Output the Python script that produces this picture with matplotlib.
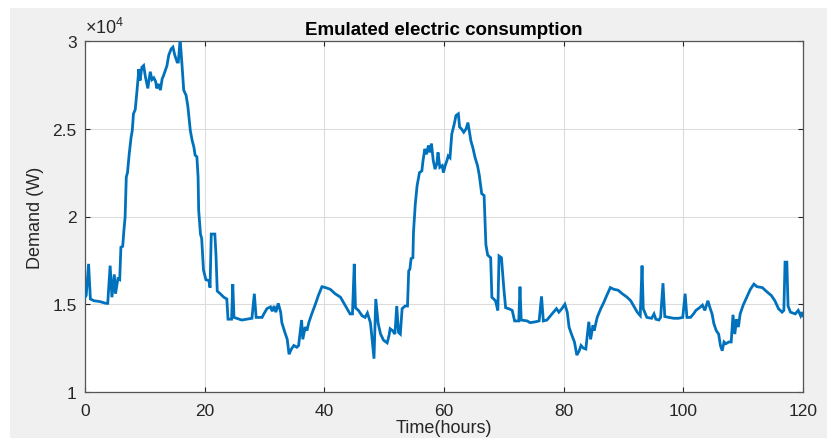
import matplotlib
matplotlib.use("Agg")
import matplotlib.pyplot as plt
from matplotlib.patches import Rectangle
from matplotlib.ticker import FuncFormatter

plt.rcParams['font.family'] = ['Liberation Sans', 'DejaVu Sans']
plt.rcParams['mathtext.fontset'] = 'custom'
plt.rcParams['mathtext.rm'] = 'Liberation Sans'

hours = [0.0, 0.2, 0.6, 0.9, 1.5, 2.5, 3.5, 3.8, 4.2, 4.5, 4.9, 5.1, 5.5, 5.8, 6.0, 6.3, 6.5, 6.7, 6.9, 7.1,
         7.4, 7.7, 7.9, 8.1, 8.4, 8.7, 9.0, 9.2, 9.5, 9.8, 10.1, 10.5, 10.9, 11.2, 11.5, 11.8, 12.0, 12.3, 12.6, 12.9,
         13.1, 13.4, 13.7, 14.0, 14.4, 14.7, 15.0, 15.4, 15.6, 15.9, 16.2, 16.5, 16.9, 17.2, 17.6, 17.9, 18.2, 18.4, 18.7, 18.9,
         19.0, 19.3, 19.5, 19.8, 20.2, 20.7, 20.9, 21.1, 21.7, 21.9, 22.1, 22.6, 23.2, 23.7, 23.9, 24.5, 24.7, 24.9, 26.2, 27.1,
         27.9, 28.3, 28.6, 29.6, 29.9, 30.4, 31.0, 31.3, 31.6, 31.9, 32.3, 32.7, 32.9, 33.4, 33.8, 34.1, 34.5, 34.9, 35.4, 35.7,
         36.2, 36.4, 36.8, 37.1, 37.4, 37.9, 38.5, 39.0, 39.6, 40.2, 41.0, 41.8, 42.7, 43.2, 43.8, 44.3, 44.7, 45.0, 45.2, 45.7,
         46.3, 46.8, 47.2, 47.7, 47.9, 48.3, 48.6, 49.0, 49.4, 49.9, 50.5, 50.8, 51.0, 51.4, 51.8, 52.1, 52.4, 52.7, 53.0, 53.5,
         53.9, 54.1, 54.3, 54.5, 54.8, 54.9, 55.2, 55.5, 55.9, 56.3, 56.5, 56.8, 57.1, 57.4, 57.7, 57.9, 58.2, 58.5, 58.8, 59.0,
         59.3, 59.7, 59.9, 60.2, 60.5, 60.7, 61.0, 61.3, 61.7, 62.0, 62.4, 62.6, 62.9, 63.3, 63.7, 64.0, 64.3, 64.5, 64.8, 65.2,
         65.6, 65.9, 66.3, 66.7, 67.0, 67.3, 67.8, 68.0, 68.6, 69.0, 69.2, 69.6, 70.0, 70.3, 70.8, 71.4, 71.8, 72.5, 72.7, 72.9,
         73.9, 74.4, 75.3, 75.9, 76.3, 76.6, 77.2, 77.8, 78.3, 78.8, 79.2, 79.7, 80.2, 80.6, 80.9, 81.3, 81.8, 82.2, 82.6, 82.9,
         83.3, 83.7, 84.2, 84.5, 84.9, 85.1, 85.6, 86.2, 86.7, 87.2, 87.8, 88.4, 89.1, 89.8, 90.6, 91.2, 91.7, 92.3, 92.8, 93.1,
         93.3, 93.9, 94.7, 95.1, 95.4, 95.9, 96.2, 96.6, 96.9, 97.6, 98.4, 99.2, 99.9, 100.3, 100.6, 101.2, 101.7, 102.1, 102.7, 103.2,
         103.6, 104.1, 104.5, 104.8, 105.1, 105.5, 105.9, 106.2, 106.5, 106.8, 107.1, 107.6, 108.0, 108.3, 108.6, 108.9, 109.2, 109.5, 110.0, 110.6,
         111.2, 111.8, 112.3, 113.2, 114.0, 114.7, 115.3, 115.9, 116.5, 116.8, 117.0, 117.3, 117.5, 117.9, 118.7, 119.2, 119.6, 119.8, 120.0]

demand = [15400, 15500, 17300, 15300, 15200, 15150, 15050, 15050, 17200, 15400, 16700, 15600, 16450, 16400, 18250, 18300, 19200, 19950, 22250, 22500,
          23600, 24500, 24900, 25850, 26100, 27200, 28400, 27750, 28500, 28600, 27950, 27300, 28250, 27800, 27900, 27700, 27300, 27550, 27200, 27850,
          28000, 28300, 28600, 29200, 29550, 29650, 29200, 28800, 28800, 30100, 28700, 27200, 26900, 26250, 24900, 24350, 23950, 23500, 23400, 22250,
          20350, 19000, 18750, 16950, 16400, 16350, 15950, 19000, 19000, 17750, 15750, 15600, 15400, 15300, 14150, 14150, 16150, 14250, 14100, 14150,
          14200, 15600, 14250, 14250, 14450, 14750, 14850, 14600, 14900, 14550, 15050, 14550, 13950, 13400, 13000, 12150, 12450, 12650, 12550, 12650,
          14100, 13000, 13700, 13500, 13950, 14450, 15000, 15500, 16000, 15950, 15850, 15600, 15400, 15100, 14750, 14450, 14450, 17300, 14800, 14650,
          14350, 14250, 14500, 13950, 13300, 11900, 15300, 13900, 13300, 12950, 12800, 13200, 13600, 13500, 13300, 14900, 13400, 13300, 14750, 14900,
          14900, 16900, 17000, 17600, 17650, 19100, 20700, 21750, 22500, 22600, 23200, 23850, 23550, 24050, 23650, 24150, 23200, 22700, 23000, 23650,
          22800, 22900, 22500, 22900, 23200, 23450, 23350, 24700, 25250, 25750, 25850, 25100, 25000, 24800, 25000, 25350, 24700, 24300, 23950, 23350,
          22900, 22350, 21300, 21200, 18400, 17800, 17650, 15400, 15200, 14650, 17750, 17650, 15900, 14800, 14750, 14650, 14050, 14050, 16000, 14100,
          14050, 13950, 14000, 14050, 15450, 14050, 14100, 14350, 14550, 14750, 14550, 14750, 15000, 14550, 13700, 13300, 12850, 12100, 12350, 12650,
          12500, 12450, 14000, 13000, 13800, 13500, 14250, 14750, 15100, 15500, 15950, 15850, 15800, 15600, 15400, 15200, 14900, 14550, 14350, 17200,
          14750, 14250, 14200, 14450, 14150, 14100, 14250, 16200, 14300, 14250, 14200, 14200, 14250, 15600, 14250, 14250, 14450, 14650, 14800, 14950,
          14650, 15200, 14750, 14450, 13900, 13500, 13300, 12650, 12350, 12850, 12750, 12850, 12850, 14400, 13300, 14150, 13700, 14450, 14950, 15400,
          15850, 16150, 16000, 15950, 15700, 15500, 15200, 14750, 14550, 14650, 17400, 17400, 14900, 14550, 14450, 14650, 14350, 14550, 14350]

x_ticks = [0, 20, 40, 60, 80, 100, 120]
y_ticks = [10000, 15000, 20000, 25000, 30000]

W, H = 827, 439
fig = plt.figure(figsize=(W / 100, H / 100), dpi=100, facecolor='white')
fig.patches.append(Rectangle((10 / W, 0), 1 - 10 / W, (H - 9) / H, transform=fig.transFigure,
                             facecolor='#f0f0f0', edgecolor='none', zorder=-10))

ax = fig.add_axes([85 / W, (H - 393) / H, 718 / W, 351 / H])
ax.set_facecolor('white')
ax.plot(hours, demand, color='#0072BD', linewidth=2.0, zorder=3, solid_joinstyle='miter')

ax.set_xlim(0, 120)
ax.set_ylim(10000, 30000)
ax.set_xticks(x_ticks)
ax.set_yticks(y_ticks)
ax.yaxis.set_major_formatter(FuncFormatter(lambda v, p: ('%g' % (v / 1e4))))
ax.grid(True, color='#dcdcdc', linewidth=0.8, zorder=0)
ax.set_axisbelow(True)

for s in ax.spines.values():
    s.set_color('#555555')
    s.set_linewidth(0.9)

ax.tick_params(axis='both', which='major', direction='in', length=3.5, width=0.8,
               colors='#262626', labelsize=12.5, top=True, right=True, pad=6)
ax.tick_params(axis='x', pad=8)

ax.set_title('Emulated electric consumption', fontsize=13.5, fontweight='bold', color='black', pad=5)
ax.set_xlabel('Time(hours)', fontsize=13, color='#262626', labelpad=1)
ax.set_ylabel('Demand (W)', fontsize=13, color='#262626', labelpad=6)
ax.text(0.0, 1.01, r'$\mathregular{\times10^{4}}$', transform=ax.transAxes, fontsize=13,
        color='#262626', ha='left', va='bottom')

fig.savefig('out.png', dpi=100, facecolor=fig.get_facecolor())
